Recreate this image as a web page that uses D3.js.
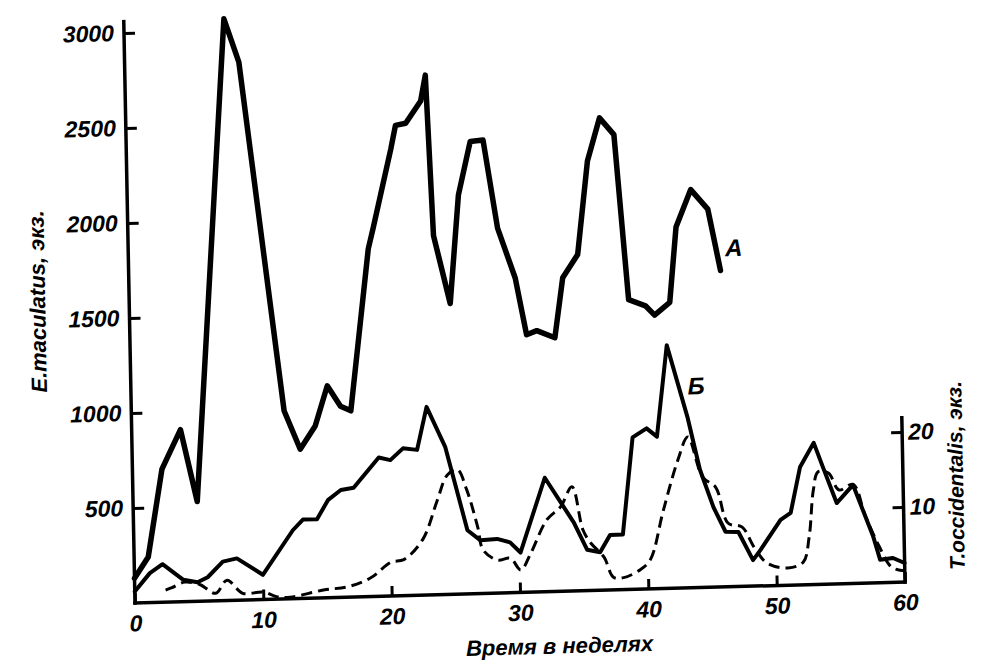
<!DOCTYPE html>
<html><head><meta charset="utf-8">
<script src="https://cdn.jsdelivr.net/npm/d3@7/dist/d3.min.js"></script>
<style>
body{margin:0;background:#fff;}
text{font-family:'Liberation Sans',Arial,sans-serif;font-weight:bold;font-style:italic;fill:#000;}
</style></head>
<body><svg id="c" width="985" height="666"></svg>
<script>
// ---- data (weeks / values) ----
const weeksA  = [0, 1.1, 2.3, 3.8, 5.0, 7.8, 8.9, 11.9, 13.1, 14.3, 15.3, 16.3, 17.1, 18.7, 19.1, 20.6, 21.0, 21.8, 23.0, 23.4, 23.8, 25.0, 25.8, 26.8, 27.8, 28.8, 30.1, 30.9, 31.7, 33.1, 33.8, 35.0, 35.9, 36.9, 38.0, 38.9, 40.2, 40.9, 42.1, 42.7, 43.9, 45.2, 46.1];
const valuesA = [130, 240, 700, 905, 525, 3060, 2830, 990, 785, 905, 1115, 1005, 980, 1830, 1935, 2350, 2475, 2485, 2600, 2735, 1890, 1530, 2100, 2380, 2385, 1920, 1655, 1355, 1375, 1335, 1650, 1770, 2260, 2485, 2395, 1525, 1490, 1440, 1505, 1900, 2095, 1990, 1665];

const weeksB  = [0, 1.2, 2.2, 3.8, 4.9, 5.7, 6.9, 8.0, 10.0, 12.4, 13.2, 14.3, 15.2, 16.2, 17.2, 19.2, 20.1, 21.1, 22.2, 23.0, 24.4, 26.0, 27.0, 28.3, 29.3, 30.1, 32.1, 34.3, 35.3, 36.3, 37.1, 38.1, 39.0, 40.1, 40.9, 41.8, 43.3, 44.2, 45.2, 46.1, 47.1, 48.2, 48.8, 50.4, 51.2, 52.0, 53.1, 53.8, 54.8, 56.1, 57.6, 58.1, 59.1, 60];
const valuesB = [60, 155, 200, 115, 100, 125, 205, 220, 130, 360, 415, 415, 515, 565, 575, 730, 715, 775, 765, 990, 775, 335, 280, 285, 265, 210, 600, 360, 215, 200, 290, 290, 800, 845, 800, 1280, 900, 620, 420, 290, 287, 137, 190, 345, 380, 620, 745, 612, 425, 518, 242, 120, 128, 100];

const weeksT  = [2.4, 2.9, 3.9, 5.1, 6.3, 7.2, 8.4, 10.0, 11.1, 12.1, 14.7, 16.6, 18.4, 20.0, 21.0, 22.5, 23.7, 24.5, 25.3, 26.0, 26.8, 27.2, 28.3, 29.3, 30.1, 30.9, 32.2, 33.3, 34.2, 35.0, 35.6, 36.6, 37.3, 38.1, 39.4, 40.2, 41.3, 42.5, 43.3, 44.4, 45.4, 46.3, 47.4, 48.3, 49.3, 50.9, 52.1, 52.6, 53.0, 53.4, 54.2, 55.0, 56.1, 57.0, 58.0, 59.0, 60];
const valuesT = [1.6, 1.9, 2.6, 2.2, 1.0, 2.7, 0.9, 1.0, 0.3, 0.2, 1.05, 1.4, 2.5, 4.5, 4.8, 7.4, 12.6, 15.9, 16.6, 13.9, 8.9, 5.8, 4.4, 4.6, 3.0, 5.2, 9.6, 11.3, 13.9, 8.1, 6.3, 4.4, 1.7, 1.6, 2.6, 3.9, 10.5, 17.1, 20.1, 14.7, 13.3, 8.5, 7.9, 5.2, 3.0, 2.3, 3.0, 6.3, 12.6, 15.0, 14.8, 12.5, 13.2, 9.0, 5.0, 2.0, 1.5];

const xTicks = [0, 10, 20, 30, 40, 50, 60];
const yLeftTicks = [500, 1000, 1500, 2000, 2500, 3000];
const yRightTicks = [10, 20];
const xTitle = "Время в неделях";
const yLeftTitle = "E.maculatus, экз.";
const yRightTitle = "T.occidentalis, экз.";
const labelA = "A", labelB = "Б";

// ---- drawing ----
const svg = d3.select("#c");
svg.append("rect").attr("width",985).attr("height",666).attr("fill","#fff");
const W = 770, H = 570;
// scanned page is slightly skewed: draw in a local frame and map it
const g = svg.append("g").attr("transform","matrix(1,-0.0273,0.0193,1,135,603)");

const x = d3.scaleLinear().domain([0,60]).range([0,W]);
const yL = d3.scaleLinear().domain([0,3000]).range([0,-H]);
const yR = d3.scaleLinear().domain([0,20]).range([0,-150]);

// axes
const axW = 3.5;
const ax = g.append("g").attr("stroke","#000").attr("stroke-width",axW).attr("stroke-linecap","square");
ax.append("line").attr("x1",0).attr("y1",0).attr("x2",x(60)).attr("y2",0);
ax.append("line").attr("x1",0).attr("y1",0).attr("x2",0).attr("y2",yL(3060));
ax.append("line").attr("x1",x(60)).attr("y1",0).attr("x2",x(60)).attr("y2",yR(21.9));

function styleAxis(sel){
  sel.select(".domain").remove();
  sel.selectAll(".tick line").attr("stroke","#000").attr("stroke-width",3);
  sel.selectAll(".tick text").attr("font-size",23).attr("fill","#000")
     .style("font-family","'Liberation Sans',Arial,sans-serif").style("font-weight","bold").style("font-style","italic");
}
g.append("g").call(d3.axisBottom(x).tickValues(xTicks).tickSizeInner(-10).tickSizeOuter(0).tickPadding(12).tickFormat(d3.format("d"))).call(styleAxis);
g.append("g").call(d3.axisLeft(yL).tickValues(yLeftTicks).tickSizeInner(-11).tickSizeOuter(0).tickPadding(10).tickFormat(d3.format("d"))).call(styleAxis);
g.append("g").attr("transform",`translate(${x(60)},0)`).call(d3.axisRight(yR).tickValues(yRightTicks).tickSizeInner(-11).tickSizeOuter(0).tickPadding(6).tickFormat(d3.format("d"))).call(styleAxis);

// lines
const lineL = d3.line().x(d=>x(d[0])).y(d=>yL(d[1]));
const lineR = d3.line().x(d=>x(d[0])).y(d=>yR(d[1])).curve(d3.curveCatmullRom.alpha(0.5));
const dA = weeksA.map((w,i)=>[w,valuesA[i]]);
const dB = weeksB.map((w,i)=>[w,valuesB[i]]);
const dT = weeksT.map((w,i)=>[w,valuesT[i]]);

g.append("path").datum(dT).attr("d",lineR).attr("fill","none").attr("stroke","#000")
  .attr("stroke-width",3).attr("stroke-dasharray","11,6").attr("stroke-linejoin","round");
g.append("path").datum(dB).attr("d",lineL).attr("fill","none").attr("stroke","#000")
  .attr("stroke-width",4).attr("stroke-linejoin","round").attr("stroke-linecap","round");
g.append("path").datum(dA).attr("d",lineL).attr("fill","none").attr("stroke","#000")
  .attr("stroke-width",5.5).attr("stroke-linejoin","round").attr("stroke-linecap","round");

// series labels
const lastA = dA[dA.length-1];
g.append("text").attr("x",x(lastA[0])+5).attr("y",yL(lastA[1])-14).attr("font-size",24).text(labelA);
const peakB = dB.reduce((a,b)=>b[1]>a[1]?b:a);
g.append("text").attr("x",x(peakB[0])+20).attr("y",yL(peakB[1])+50).attr("font-size",24).text(labelB);

// titles
g.append("text").attr("x",x(33)).attr("y",62).attr("text-anchor","middle").attr("font-size",22).text(xTitle);
g.append("text").attr("transform",`translate(-84,${yL(1600)}) rotate(-90)`).attr("text-anchor","middle").attr("font-size",22).text(yLeftTitle);
g.append("text").attr("transform",`translate(${x(60)+60},${yR(14)}) rotate(-90)`).attr("text-anchor","middle").attr("font-size",21).text(yRightTitle);
</script></body></html>
